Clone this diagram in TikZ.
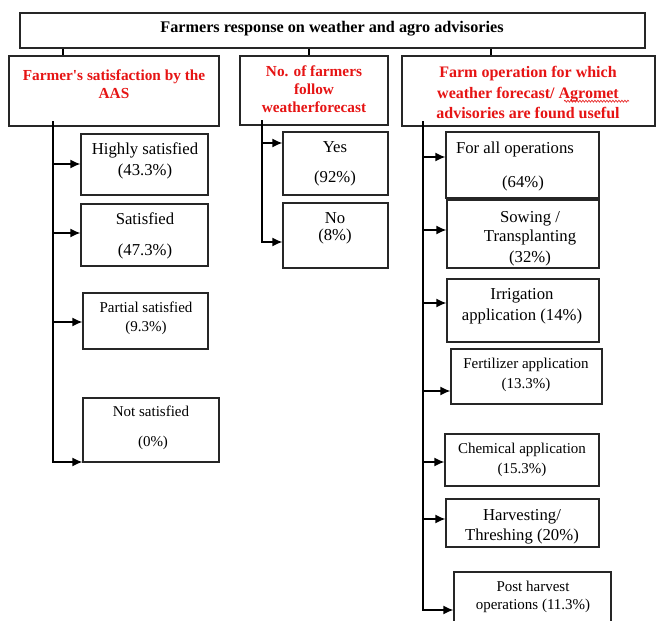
\documentclass[tikz,border=0pt]{standalone}
\usepackage{fontspec}
\setmainfont{Liberation Serif}
\usetikzlibrary{fit,arrows.meta,decorations.pathmorphing}
\definecolor{headred}{RGB}{230,20,20}
\tikzset{
  box/.style={draw=black!85, line width=1.3pt, inner sep=0pt, fill=white},
  trunk/.style={draw=black, line width=1.8pt},
  arr/.style={draw=black, line width=1.3pt, -{Latex[length=10pt,width=9pt]}},
  conn/.style={draw=black, line width=1.8pt},
  txt/.style={inner sep=0pt, text height=10pt, text depth=0pt, font=\fontsize{16.7}{18}\selectfont},
  stxt/.style={txt, text height=9pt, font=\fontsize{15}{17}\selectfont},
  head/.style={inner sep=0pt, text height=9.5pt, text depth=0pt, text=headred, font=\bfseries\fontsize{15.3}{17}\selectfont},
  headc/.style={head, text height=10pt, font=\bfseries\fontsize{16}{18}\selectfont},
  ttl/.style={inner sep=0pt, text height=10pt, text depth=0pt, font=\bfseries\fontsize{16.2}{18}\selectfont}
}
\begin{document}
\begin{tikzpicture}[x=1pt,y=-1pt]
\useasboundingbox[fill=white] (0,0) rectangle (657,621);
% boxes
\node[box, fit={(20,13) (645,48)}] (title) {};
\node[box, fit={(9,56) (219,126)}] (A) {};
\node[box, fit={(240,56) (388,125)}] (B) {};
\node[box, fit={(402,56) (655,126)}] (C) {};
\node[box, fit={(81,134) (208,195)}] (hs) {};
\node[box, fit={(81,204) (208,266)}] (sat) {};
\node[box, fit={(83,293) (208,349)}] (ps) {};
\node[box, fit={(83,398) (219,462)}] (ns) {};
\node[box, fit={(283,132) (388,195)}] (yes) {};
\node[box, fit={(283,203) (388,268)}] (no) {};
\node[box, fit={(446,132) (599,198)}] (all) {};
\node[box, fit={(447,200) (599,268)}] (sow) {};
\node[box, fit={(447,279) (599,342)}] (irr) {};
\node[box, fit={(451,349) (602,404)}] (fert) {};
\node[box, fit={(445,434) (599,486)}] (chem) {};
\node[box, fit={(446,499) (599,547)}] (harv) {};
\node[box, fit={(454,572) (611,632)}] (post) {};
% texts
\node[ttl] (t0) at (332,27) {Farmers response on weather and agro advisories};
\node[head] (ta1) at (114,76) {Farmer\textquotesingle s satisfaction by the};
\node[head] (ta2) at (114,94) {AAS};
\node[head] (tb1) at (314,72) {No. of farmers};
\node[head] (tb2) at (314,90) {follow};
\node[head] (tb3) at (314,108) {weatherforecast};
\node[headc] (tc1) at (528,72) {Farm operation for which};
\node[headc] (tc2) at (528,93) {weather forecast/ Agromet};
\node[headc] (tc3) at (528,113) {advisories are found useful};
\node[txt] (h1) at (145,149) {Highly satisfied};
\node[txt] (h2) at (145,170) {(43.3\%)};
\node[txt] (s1) at (145,219) {Satisfied};
\node[txt] (s2) at (145,250) {(47.3\%)};
\node[stxt] (p1) at (146,308) {Partial satisfied};
\node[stxt] (p2) at (146,327) {(9.3\%)};
\node[stxt] (n1) at (151,412) {Not satisfied};
\node[stxt] (n2) at (153,442) {(0\%)};
\node[txt] (y1) at (335,147) {Yes};
\node[txt] (y2) at (335,177) {(92\%)};
\node[txt] (o1) at (335,218) {No};
\node[txt] (o2) at (335,235) {(8\%)};
\node[txt] (a1) at (515,148) {For all operations};
\node[txt] (a2) at (523,182) {(64\%)};
\node[txt] (w1) at (530,217) {Sowing /};
\node[txt] (w2) at (530,236) {Transplanting};
\node[txt] (w3) at (530,257) {(32\%)};
\node[txt] (i1) at (522,294) {Irrigation};
\node[txt] (i2) at (522,315) {application (14\%)};
\node[stxt] (f1) at (526,364) {Fertilizer application};
\node[stxt] (f2) at (526,384) {(13.3\%)};
\node[stxt] (c1) at (522,449) {Chemical application};
\node[stxt] (c2) at (522,469) {(15.3\%)};
\node[txt] (r1) at (522,515) {Harvesting/};
\node[txt] (r2) at (522,535) {Threshing (20\%)};
\node[stxt] (q1) at (533,587) {Post harvest};
\node[stxt] (q2) at (533,605) {operations (11.3\%)};
% spell-check wavy underline
\coordinate (wv1) at ([yshift=-3pt]tc2.south -| 564,0);
\coordinate (wv2) at ([yshift=-3pt]tc2.south -| 629,0);
\draw[headred, line width=0.6pt, decorate, decoration={snake, amplitude=1pt, segment length=3pt}] (wv1) -- (wv2);
% connectors from title
\draw[conn] (title.south -| 63,0) -- (A.north -| 63,0);
\draw[conn] (title.south -| 309,0) -- (B.north -| 309,0);
\draw[conn] (title.south -| 491,0) -- (C.north -| 491,0);
% left trunk
\coordinate (La) at (53,121);
\coordinate (Lb) at (53,463);
\draw[trunk] (La) -- (Lb);
\foreach \yy/\nn in {164/hs, 233/sat, 322/ps, 462/ns}{
  \coordinate (l\nn) at (53,\yy);
  \draw[arr] (l\nn) -- (l\nn -| \nn.west);
}
% middle trunk
\coordinate (Ma) at (262,120);
\coordinate (Mb) at (262,243);
\draw[trunk] (Ma) -- (Mb);
\foreach \yy/\nn in {143/yes, 242/no}{
  \coordinate (m\nn) at (262,\yy);
  \draw[arr] (m\nn) -- (m\nn -| \nn.west);
}
% right trunk
\coordinate (Ra) at (423,121);
\coordinate (Rb) at (423,611);
\draw[trunk] (Ra) -- (Rb);
\foreach \yy/\nn in {157/all, 230/sow, 303/irr, 391/fert, 462/chem, 519/harv, 610/post}{
  \coordinate (r\nn) at (423,\yy);
  \draw[arr] (r\nn) -- (r\nn -| \nn.west);
}
\end{tikzpicture}
\end{document}
